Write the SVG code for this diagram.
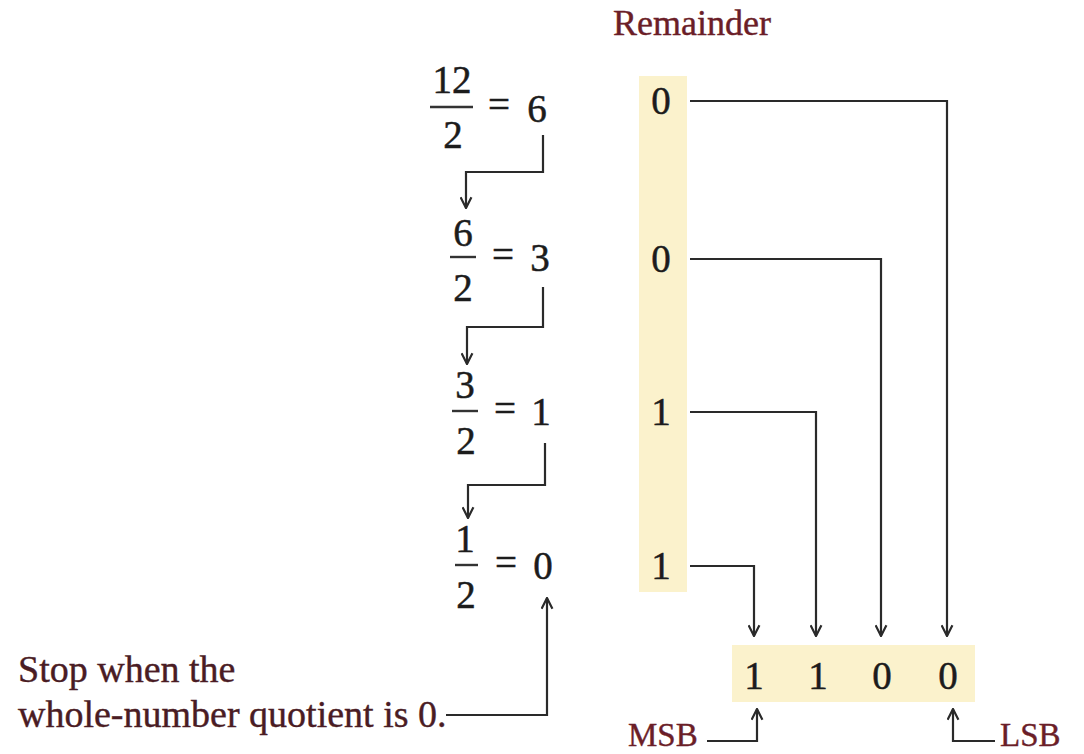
<svg xmlns="http://www.w3.org/2000/svg" width="1084" height="754" viewBox="0 0 1084 754">
<style>
.t{font-family:"Liberation Serif","Times New Roman",serif;fill:#1c1c1c;stroke:#1c1c1c;stroke-width:0.5}
.num{font-size:39px;text-anchor:middle}
.lab{font-size:38px;fill:#4a1c24;stroke:#4a1c24;stroke-width:0.4}
.red{fill:#6b1e28;stroke:#6b1e28;stroke-width:0.4}
.bar{stroke:#333;stroke-width:2.4}
.conn{fill:none;stroke:#2a2a2a;stroke-width:2.2}
.hl{fill:#fbf2cc}
</style>
<defs>
<marker id="ah" viewBox="0 0 12 12" refX="11" refY="6" markerUnits="userSpaceOnUse" markerWidth="13" markerHeight="13" orient="auto">
<path d="M1,1 L11,6 L1,11" fill="none" stroke="#2a2a2a" stroke-width="2"/>
</marker>
</defs>
<rect width="1084" height="754" fill="#ffffff"/>

<g id="remainder-title"><text class="t red" x="613" y="35" font-size="36">Remainder</text></g>

<g id="remainder-column">
<rect class="hl" x="639" y="76" width="48" height="516"/>
<text class="t num" x="661" y="114">0</text>
<text class="t num" x="661" y="272">0</text>
<text class="t num" x="661" y="425">1</text>
<text class="t num" x="661" y="579">1</text>
</g>

<g id="div1">
<text class="t num" x="452" y="93">12</text>
<line class="bar" x1="430" y1="107" x2="473" y2="107"/>
<text class="t num" x="453" y="148">2</text>
<text class="t num" x="499" y="118">=</text>
<text class="t num" x="537" y="122">6</text>
</g>
<g id="div2">
<text class="t num" x="463" y="246">6</text>
<line class="bar" x1="450" y1="257" x2="476" y2="257"/>
<text class="t num" x="463" y="301">2</text>
<text class="t num" x="503" y="268">=</text>
<text class="t num" x="540" y="271">3</text>
</g>
<g id="div3">
<text class="t num" x="465" y="398">3</text>
<line class="bar" x1="452" y1="411" x2="478" y2="411"/>
<text class="t num" x="466" y="454">2</text>
<text class="t num" x="505" y="422">=</text>
<text class="t num" x="541" y="425">1</text>
</g>
<g id="div4">
<text class="t num" x="465" y="552">1</text>
<line class="bar" x1="455" y1="565" x2="478" y2="565"/>
<text class="t num" x="466" y="608">2</text>
<text class="t num" x="506" y="576">=</text>
<text class="t num" x="543" y="579">0</text>
</g>

<g id="stop-note">
<text class="t lab" x="18" y="682">Stop when the</text>
<text class="t lab" x="18" y="727">whole-number quotient is 0.</text>
</g>

<g id="result">
<rect class="hl" x="732" y="645" width="243" height="57"/>
<text class="t num" x="754" y="689">1</text>
<text class="t num" x="818" y="689">1</text>
<text class="t num" x="882" y="689">0</text>
<text class="t num" x="948" y="689">0</text>
</g>

<g id="msb"><text class="t red" x="628" y="746" font-size="33">MSB</text></g>
<g id="lsb"><text class="t red" x="1000" y="746" font-size="33">LSB</text></g>

<g id="connectors">
<path class="conn" d="M543,135 V172 H466 V208" marker-end="url(#ah)"/>
<path class="conn" d="M543,287 V327 H467 V364" marker-end="url(#ah)"/>
<path class="conn" d="M545,443 V485 H468 V518" marker-end="url(#ah)"/>
<path class="conn" d="M446,715 H547 V598" marker-end="url(#ah)"/>
<path class="conn" d="M690,101 H947 V636" marker-end="url(#ah)"/>
<path class="conn" d="M690,259 H881 V636" marker-end="url(#ah)"/>
<path class="conn" d="M690,412 H816 V636" marker-end="url(#ah)"/>
<path class="conn" d="M690,566 H754 V636" marker-end="url(#ah)"/>
<path class="conn" d="M707,741 H757 V709" marker-end="url(#ah)"/>
<path class="conn" d="M995,741 H953 V709" marker-end="url(#ah)"/>
</g>
</svg>
